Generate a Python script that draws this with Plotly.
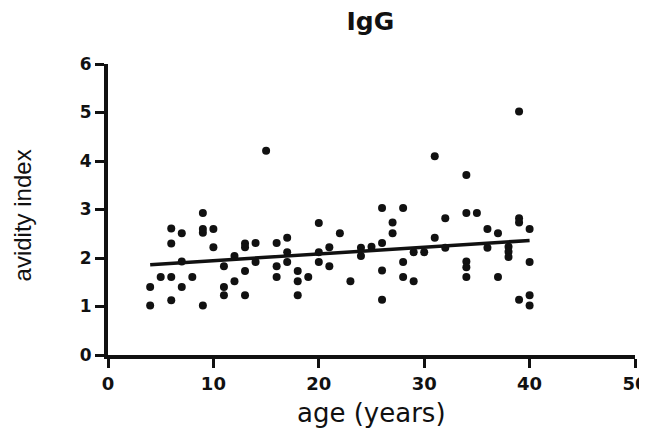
import numpy as np
import plotly.graph_objects as go

# age (years) と avidity index
age = [4, 4, 5, 6, 6, 6, 6, 7, 7, 7, 8, 9, 9, 9, 9, 10, 10,
       11, 11, 11, 12, 12, 13, 13, 13, 13, 14, 14, 15, 16, 16, 16,
       17, 17, 17, 18, 18, 18, 19, 20, 20, 20, 21, 21, 22, 23, 24, 24,
       25, 26, 26, 26, 26, 27, 27, 28, 28, 28, 29, 29, 30, 31, 31,
       32, 32, 34, 34, 34, 34, 34, 35, 36, 36, 37, 37, 38, 38, 38,
       39, 39, 39, 39, 40, 40, 40, 40]
avidity = [1.40, 1.02, 1.61, 2.61, 2.30, 1.61, 1.13, 2.51, 1.93, 1.40, 1.61, 2.93, 2.60, 2.52, 1.02, 2.60, 2.22,
           1.83, 1.40, 1.23, 2.04, 1.52, 2.30, 2.22, 1.73, 1.23, 2.31, 1.92, 4.21, 2.31, 1.83, 1.61,
           2.42, 2.12, 1.92, 1.73, 1.52, 1.23, 1.61, 2.72, 2.12, 1.92, 2.22, 1.83, 2.51, 1.52, 2.21, 2.04,
           2.23, 3.03, 2.31, 1.74, 1.14, 2.73, 2.51, 3.03, 1.92, 1.61, 2.12, 1.52, 2.12, 4.10, 2.42,
           2.82, 2.21, 3.71, 2.93, 1.93, 1.81, 1.61, 2.93, 2.60, 2.21, 2.51, 1.61, 2.23, 2.13, 2.02,
           5.02, 2.82, 2.73, 1.14, 2.60, 1.92, 1.23, 1.02]

x_ticks = [0, 10, 20, 30, 40, 50]
y_ticks = [0, 1, 2, 3, 4, 5, 6]

# 回帰直線（図の直線から読んだ係数）
fit_slope = 0.0139
fit_intercept = 1.805
fit_x = np.array([min(age), max(age)])
fit_y = fit_slope * fit_x + fit_intercept

fig = go.Figure()
fig.add_trace(go.Scatter(x=age, y=avidity, mode='markers',
                         marker=dict(color='#111111', size=8, line=dict(width=0)),
                         showlegend=False))
fig.add_trace(go.Scatter(x=fit_x, y=fit_y, mode='lines',
                         line=dict(color='#111111', width=3.5),
                         showlegend=False))

# ページの body に 8px の余白があるので、その分ずらしてある
fig.update_layout(
    width=639, height=420,
    margin=dict(l=100, r=12, t=56, b=73),
    paper_bgcolor='white', plot_bgcolor='white',
    font=dict(family='Liberation Sans, Arial', color='#111111'),
    title=dict(text='IgG', x=0.567, xanchor='center', y=0.968, yanchor='middle',
               font=dict(size=25, family='DejaVu Sans', weight='bold')),
    xaxis=dict(range=[0, 50], tickvals=x_ticks, ticks='outside', ticklen=9, tickwidth=3,
               tickcolor='#111111', showline=True, linewidth=4, linecolor='#111111',
               showgrid=False, zeroline=False, automargin=False, ticklabeloverflow='allow',
               tickfont=dict(size=18, family='DejaVu Sans', weight='bold', color='#111111')),
    yaxis=dict(range=[0, 6], tickvals=y_ticks, ticks='outside', ticklen=9, tickwidth=3,
               tickcolor='#111111', showline=True, linewidth=4, linecolor='#111111',
               showgrid=False, zeroline=False, automargin=False, ticklabeloverflow='allow',
               tickfont=dict(size=17, family='DejaVu Sans', weight='bold', color='#111111')),
)

# 軸タイトル
fig.add_annotation(text='age (years)', xref='paper', yref='paper', x=0.5, y=-0.2,
                   xanchor='center', yanchor='middle', showarrow=False,
                   font=dict(size=26, family='DejaVu Sans', color='#111111'))
fig.add_annotation(text='avidity index', xref='paper', yref='paper', x=-0.163, y=0.48,
                   xanchor='center', yanchor='middle', showarrow=False, textangle=-90,
                   font=dict(size=24, family='Liberation Sans, Arial', color='#111111'))

fig.write_html('out.html')
